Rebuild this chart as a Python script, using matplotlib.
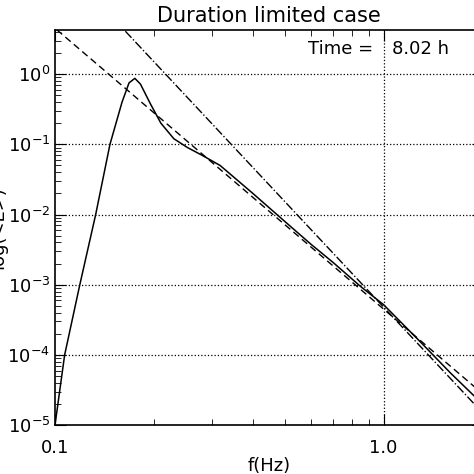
import numpy as np
import matplotlib
matplotlib.use("Agg")
import matplotlib.pyplot as plt

freq = [0.1, 0.107, 0.119, 0.133, 0.147, 0.16, 0.168, 0.175, 0.182, 0.195, 0.21, 0.23, 0.253, 0.28, 0.318, 0.4, 0.5, 0.6, 0.7, 0.85, 1.0, 1.3, 1.6, 2.0]
energy = [1.0e-5, 1.0e-4, 1.0e-3, 1.0e-2, 0.1, 0.4, 0.75, 0.87, 0.72, 0.38, 0.2, 0.12, 0.09, 0.07, 0.05, 0.02, 8e-3, 3.8e-3, 2.1e-3, 9.5e-4, 5.2e-4, 1.5e-4, 5.5e-5, 2.0e-5]
ref_f = [0.08, 2.2]
c4 = 4.5e-4
c5 = 4.8e-4

fig = plt.figure(figsize=(4.74, 4.74), dpi=100)
ax = fig.add_axes([0.116, 0.103, 0.902, 0.833])
ax.loglog(freq, energy, 'k-', lw=1.1)
rf = np.array(ref_f)
ax.loglog(rf, c4 * rf**-4, 'k--', lw=1.0, dashes=(5, 3))
ax.loglog(rf, c5 * rf**-5, 'k-.', lw=1.0)
ax.set_xlim(0.1, 2.0)
ax.set_ylim(1e-5, 4.2)
ax.set_xticks([0.1, 1.0])
ax.set_xticklabels(['0.1', '1.0'])
ax.set_yticks([1e-5, 1e-4, 1e-3, 1e-2, 1e-1, 1e0])
ax.tick_params(which='both', direction='in', top=True, right=True, labelsize=13)
ax.tick_params(axis='x', pad=10)
ax.tick_params(which='major', length=8)
ax.tick_params(which='minor', length=4)
ax.grid(True, axis='y', which='major', ls=':', color='k', lw=0.9)
ax.axvline(1.0, ls=':', color='k', lw=0.9)
ax.set_title('Duration limited case', fontsize=15)
ax.set_xlabel('f(Hz)', fontsize=13, labelpad=0)
ax.set_ylabel('log(<E>)', fontsize=13, labelpad=0)
ax.annotate('Time = ', xy=(0.97, 2.3), fontsize=13, ha='right', va='center')
ax.annotate('8.02 h', xy=(1.06, 2.3), fontsize=13, ha='left', va='center')
for s in ax.spines.values():
    s.set_linewidth(1.2)
fig.savefig('out.png', dpi=100)
